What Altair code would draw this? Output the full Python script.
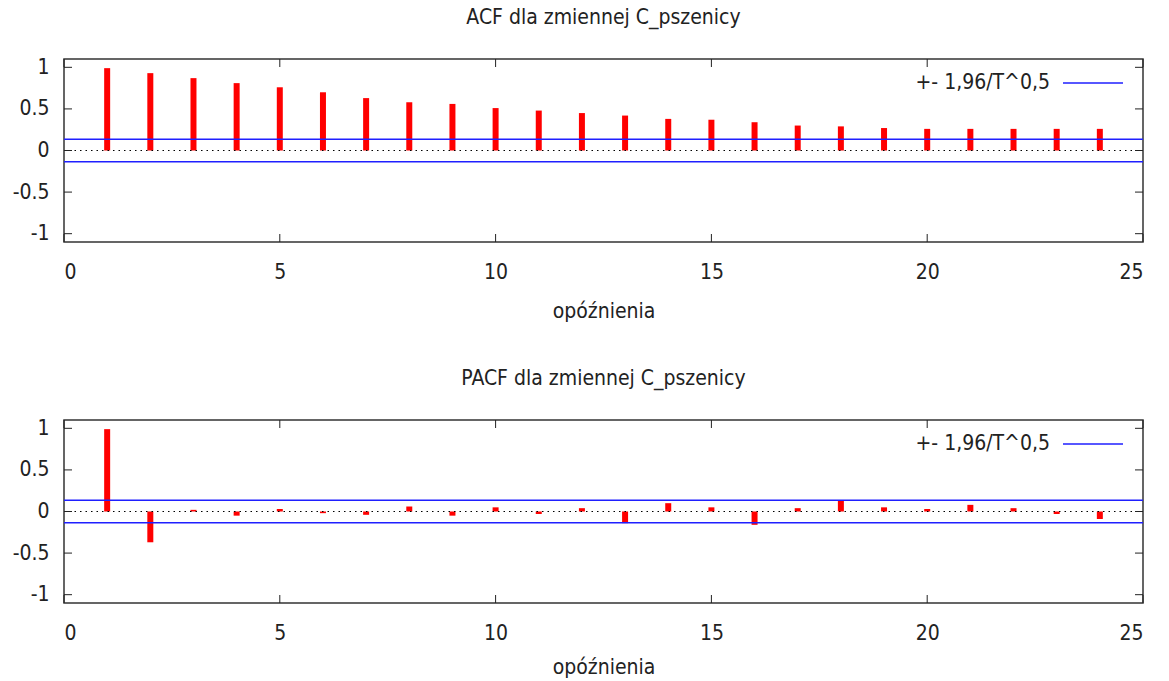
import altair as alt
import pandas as pd

lags = list(range(1, 25))
acf_values = [0.99, 0.93, 0.87, 0.81, 0.76, 0.70, 0.63, 0.58, 0.56, 0.51, 0.48, 0.45,
              0.42, 0.38, 0.37, 0.34, 0.30, 0.29, 0.27, 0.26, 0.26, 0.26, 0.26, 0.26]
pacf_values = [0.99, -0.37, 0.02, -0.05, 0.03, -0.02, -0.04, 0.06, -0.05, 0.05, -0.03, 0.04,
               -0.14, 0.10, 0.05, -0.16, 0.04, 0.13, 0.05, 0.03, 0.08, 0.04, -0.03, -0.09]
band_value = 0.135
x_ticks = [0, 5, 10, 15, 20, 25]
y_ticks = [-1, -0.5, 0, 0.5, 1]
titles = ["ACF dla zmiennej C_pszenicy", "PACF dla zmiennej C_pszenicy"]
x_title = "opóźnienia"
legend_label = "+- 1,96/T^0,5"

FONT = "DejaVu Sans Condensed"
FS = 21
W, H = 1079, 183
RED = "#ff0000"
BLUE = "#1f1fff"
TXT = "#222222"


def panel(title, values, title_pad):
    df = pd.DataFrame({"lag": lags, "value": values})
    xs = alt.Scale(domain=[0, 25], nice=False, zero=False)
    ys = alt.Scale(domain=[-1.1, 1.1], nice=False)
    x_axis = alt.Axis(values=x_ticks, ticks=False, grid=False, domain=False,
                      labelFontSize=FS, labelPadding=19, labelColor=TXT,
                      title=x_title, titleFontSize=FS, titleFontWeight="normal",
                      titleColor=TXT, titlePadding=title_pad)
    y_axis = alt.Axis(values=y_ticks, ticks=False, grid=False, domain=False,
                      labelFontSize=FS, labelPadding=15, labelColor=TXT,
                      title=None, labelExpr="toString(datum.value)")

    def X(f):
        return alt.X(f, scale=xs, axis=x_axis)

    def Y(f):
        return alt.Y(f, scale=ys, axis=y_axis)

    bars = alt.Chart(df).mark_rule(color=RED, strokeWidth=6, strokeCap="butt").encode(
        x=X("lag:Q"), y=Y("value:Q"), y2=alt.datum(0),
    )
    band = alt.Chart(pd.DataFrame({"value": [band_value, -band_value]})).mark_rule(
        color=BLUE, strokeWidth=1.5).encode(y=Y("value:Q"))
    zero = alt.Chart(pd.DataFrame({"value": [0]})).mark_rule(
        color="black", strokeWidth=1, strokeDash=[1.5, 4]).encode(y=Y("value:Q"))

    xt = pd.DataFrame({"lag": x_ticks})
    yt = pd.DataFrame({"value": y_ticks})
    tick_top = alt.Chart(xt).mark_rule(color=TXT, strokeWidth=1).encode(
        x=X("lag:Q"), y=alt.value(0), y2=alt.value(8))
    tick_bot = alt.Chart(xt).mark_rule(color=TXT, strokeWidth=1).encode(
        x=X("lag:Q"), y=alt.value(H - 8), y2=alt.value(H))
    tick_left = alt.Chart(yt).mark_rule(color=TXT, strokeWidth=1).encode(
        y=Y("value:Q"), x=alt.value(0), x2=alt.value(8))
    tick_right = alt.Chart(yt).mark_rule(color=TXT, strokeWidth=1).encode(
        y=Y("value:Q"), x=alt.value(W - 8), x2=alt.value(W))

    leg_text = alt.Chart(pd.DataFrame({"l": [legend_label]})).mark_text(
        align="right", baseline="middle", fontSize=FS, font=FONT, color=TXT).encode(
        text="l:N", x=alt.value(986), y=alt.value(24))
    leg_line = alt.Chart(pd.DataFrame({"l": [legend_label]})).mark_rule(
        color=BLUE, strokeWidth=1.5).encode(
        x=alt.value(999), x2=alt.value(1059), y=alt.value(24))

    return alt.layer(bars, band, zero, tick_top, tick_bot, tick_left, tick_right,
                     leg_text, leg_line).properties(
        width=W, height=H,
        title=alt.TitleParams(title, fontSize=FS, font=FONT, fontWeight="normal",
                              color=TXT, offset=28),
    )


chart = alt.vconcat(panel(titles[0], acf_values, 18),
                    panel(titles[1], pacf_values, 13),
                    spacing=45).configure(
    padding={"left": 11, "top": 6, "right": 5, "bottom": 0}, background="white"
).configure_view(stroke="#333", strokeWidth=1.5).configure_axis(
    labelFont=FONT, titleFont=FONT).configure_title(font=FONT)

chart.save("out.html", embed_options={"renderer": "svg", "actions": False})
